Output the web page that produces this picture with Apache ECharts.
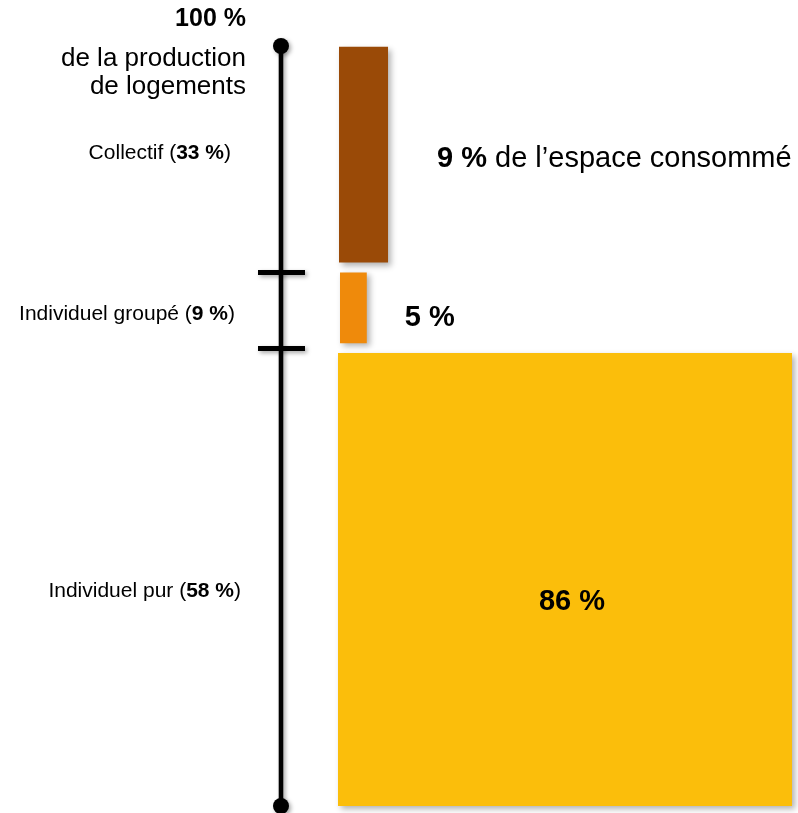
<!DOCTYPE html>
<html><head><meta charset="utf-8">
<script src="https://cdn.jsdelivr.net/npm/echarts@6/dist/echarts.min.js"></script>
<style>html,body{margin:0;padding:0;background:#fff}#c{width:798px;height:813px}</style>
</head><body><div id="c"></div>
<script>
// ---- data ----
const categories = ['Individuel pur', 'Individuel groupé', 'Collectif'];
const productionShare = [58, 9, 33];        // % de la production de logements
const spaceShare = [86, 5, 9];              // % de l'espace consommé
const drawnHeight = [59.6, 9.3, 28.4];      // bar heights as drawn (0–100 production scale)
const drawnWidth = [100, 5.9, 10.8];        // bar widths as drawn (relative, Individuel pur = 100)
const axisBreaks = [60.2, 70.2];            // tick marks on the production scale
const axisMax = 100;
const topLabel = ['de la production', 'de logements'];
const spaceText = ' de l\u2019espace consommé';

// ---- style / layout ----
const colors = ['#FBBE0B', '#EF8A0B', '#9A4A07'];
const GAP = 1.3;
const FONT = '"Liberation Sans", Arial, Helvetica, sans-serif';
const catDx = [-40, -46, -50];
const catDy = [12, 6.5, -1.5];
const barDx = [0, 2, 1];
const LINE_OFFSET = 57;

let acc = 0;
const barData = categories.map((c, i) => {
  const start = acc + (i > 0 ? GAP : 0);
  const end = start + drawnHeight[i];
  acc = end;
  return [0, drawnWidth[i], start, end, productionShare[i], spaceShare[i]];
});

const chart = echarts.init(document.getElementById('c'));
chart.setOption({
  animation: false,
  grid: { left: 338, right: 6, top: 46, bottom: 7 },
  xAxis: { type: 'value', min: 0, max: 100, show: false },
  yAxis: { type: 'value', min: 0, max: axisMax, show: false },
  series: [
    {
      type: 'custom',
      clip: false,
      data: [[0, axisMax]],
      renderItem(params, api) {
        const top = api.coord([0, axisMax]);
        const bot = api.coord([0, 0]);
        const x = top[0] - LINE_OFFSET;
        const shadow = { shadowColor: 'rgba(0,0,0,0.35)', shadowBlur: 4, shadowOffsetX: 2, shadowOffsetY: 2 };
        const children = [
          { type: 'line', shape: { x1: x, y1: top[1], x2: x, y2: bot[1] }, style: Object.assign({ stroke: '#000', lineWidth: 4.6 }, shadow) },
          { type: 'circle', shape: { cx: x, cy: top[1], r: 8 }, style: Object.assign({ fill: '#000' }, shadow) },
          { type: 'circle', shape: { cx: x, cy: bot[1], r: 8 }, style: Object.assign({ fill: '#000' }, shadow) }
        ];
        axisBreaks.forEach(v => {
          const p = api.coord([0, v]);
          children.push({ type: 'line', shape: { x1: x - 23, y1: p[1], x2: x + 24, y2: p[1] }, style: Object.assign({ stroke: '#000', lineWidth: 5 }, shadow) });
        });
        children.push(
          { type: 'text', x: x - 35, y: top[1] - 27, style: { text: axisMax + ' %', font: 'bold 25px ' + FONT, fill: '#000', align: 'right', verticalAlign: 'middle' } },
          { type: 'text', x: x - 35, y: top[1] + 12.5, style: { text: topLabel[0], font: '26px ' + FONT, fill: '#000', align: 'right', verticalAlign: 'middle' } },
          { type: 'text', x: x - 35, y: top[1] + 40.5, style: { text: topLabel[1], font: '26px ' + FONT, fill: '#000', align: 'right', verticalAlign: 'middle' } }
        );
        return { type: 'group', children };
      }
    },
    {
      type: 'custom',
      clip: false,
      data: barData,
      renderItem(params, api) {
        const i = params.dataIndex;
        const p0 = api.coord([api.value(0), api.value(3)]);
        const p1 = api.coord([api.value(1), api.value(2)]);
        const w = p1[0] - p0[0], h = p1[1] - p0[1];
        const cy = (p0[1] + p1[1]) / 2;
        const lineX = api.coord([0, 0])[0] - LINE_OFFSET;
        const bx = p0[0] + barDx[i];
        const children = [{
          type: 'rect',
          shape: { x: bx, y: p0[1], width: w, height: h },
          style: { fill: colors[i], shadowColor: 'rgba(0,0,0,0.3)', shadowBlur: 6, shadowOffsetX: 3, shadowOffsetY: 3 }
        }];
        // category label
        children.push({
          type: 'text', x: lineX + catDx[i], y: cy + catDy[i],
          style: {
            text: '{n|' + categories[i] + ' (}{b|' + api.value(4) + ' %}{n|)}',
            align: 'right', verticalAlign: 'middle',
            rich: { n: { font: '21px ' + FONT, fill: '#000' }, b: { font: 'bold 21px ' + FONT, fill: '#000' } }
          }
        });
        // space share label
        let sx, sy, sa, txt;
        if (i === 0) { sx = bx + w / 2 + 7; sy = cy + 22; sa = 'center'; txt = '{b|' + api.value(5) + ' %}'; }
        else if (i === 1) { sx = bx + w + 38; sy = cy + 10; sa = 'left'; txt = '{b|' + api.value(5) + ' %}'; }
        else { sx = bx + w + 49; sy = cy + 4.5; sa = 'left'; txt = '{b|' + api.value(5) + ' %}{n|' + spaceText + '}'; }
        children.push({
          type: 'text', x: sx, y: sy,
          style: {
            text: txt, align: sa, verticalAlign: 'middle',
            rich: { n: { font: '29px ' + FONT, fill: '#000' }, b: { font: 'bold 29px ' + FONT, fill: '#000' } }
          }
        });
        return { type: 'group', children };
      }
    }
  ]
});
</script></body></html>
